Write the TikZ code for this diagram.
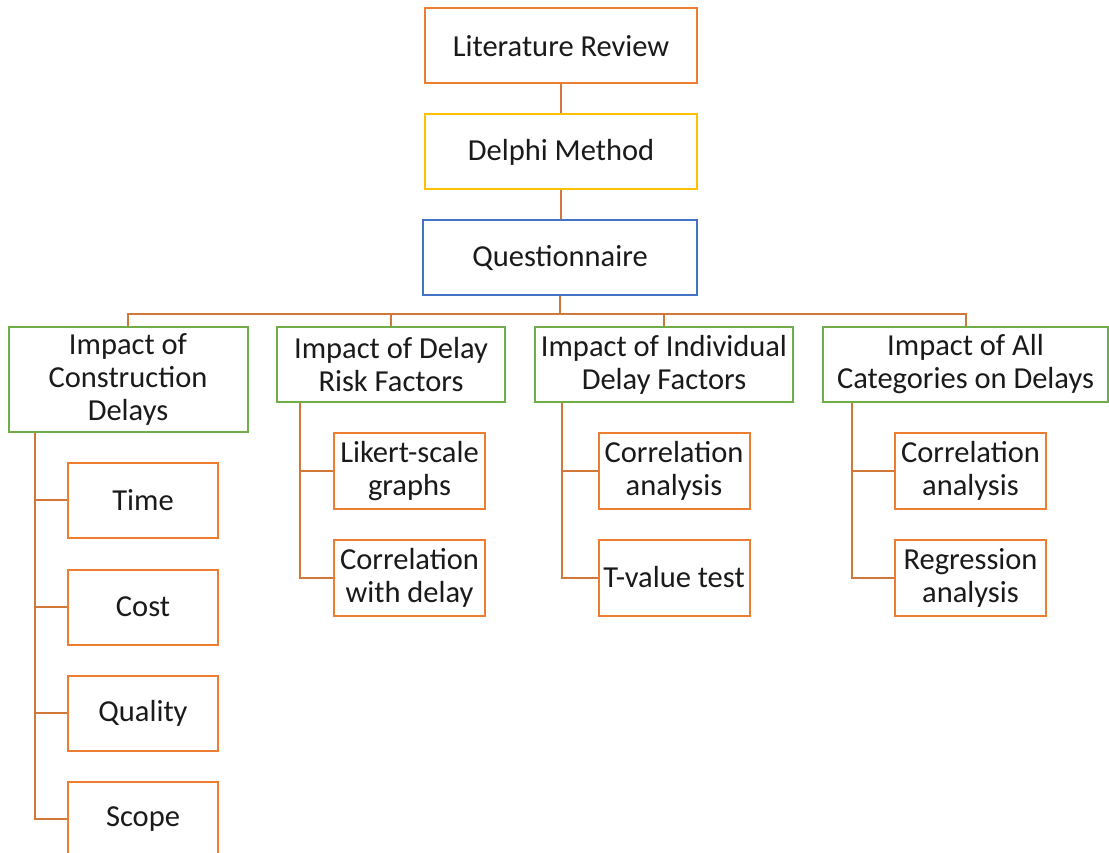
\documentclass[tikz,border=0pt]{standalone}
\usepackage{fontspec}
\setmainfont{Carlito}

\definecolor{boxorange}{HTML}{ED7D31}
\definecolor{boxgold}{HTML}{FFC000}
\definecolor{boxblue}{HTML}{4472C4}
\definecolor{boxgreen}{HTML}{70AD47}
\definecolor{linkorange}{HTML}{D2773A}
\definecolor{textblack}{HTML}{1A1A1A}

\tikzset{
  box/.style={draw=boxorange, line width=2pt, fill=white, inner sep=0pt,
    align=center, text=textblack, font=\fontsize{30.5pt}{33pt}\selectfont},
  topbox/.style={box, minimum width=272pt, minimum height=75pt},
  catbox/.style={box, draw=boxgreen, minimum height=75pt},
  subbox/.style={box, minimum width=151pt, minimum height=76pt},
  link/.style={draw=linkorange, line width=2pt},
}

\begin{document}
\begin{tikzpicture}[x=1pt,y=1pt]
  \useasboundingbox (0,0) rectangle (1109,-853);
  \clip (0,0) rectangle (1109,-853);

  %top chain
  \node[topbox] (litrev) at (561,-46) {Literature Review};
  \node[topbox, draw=boxgold] (delphi) at (561,-152) {Delphi Method};
  \node[topbox, draw=boxblue, minimum width=274pt] (quest) at (560,-258) {Questionnaire};

  \draw[link] (litrev.south) -- (delphi.north);
  \draw[link] (delphi.south) -- (delphi.south |- quest.north);

  %categories
  \node[catbox, minimum width=239pt, minimum height=105pt] (impcon) at (128,-379.5) {Impact of\\Construction\\Delays};
  \node[catbox, minimum width=228pt] (imprisk) at (391,-364.5) {Impact of Delay\\Risk Factors};
  \node[catbox, minimum width=258pt] (impind) at (664,-364.5) {Impact of Individual\\Delay Factors};
  \node[catbox, minimum width=285pt] (impall) at (965.5,-364.5) {Impact of All\\Categories on Delays};

  %bus
  \draw[link] (quest.south) -- ++(0,-17) coordinate (bus);
  \draw[link] (bus) -| (impcon.north);
  \draw[link] (bus) -| (imprisk.north);
  \draw[link] (bus) -| (impind.north);
  \draw[link] (bus) -| (impall.north);

  %construction delays
  \node[subbox, minimum width=150pt, minimum height=75pt] (time) at (143,-500) {Time};
  \node[subbox, minimum width=150pt, minimum height=75pt] (cost) at (143,-607) {Cost};
  \node[subbox, minimum width=150pt, minimum height=75pt] (quality) at (143,-713) {Quality};
  \node[subbox, minimum width=150pt, minimum height=75pt] (scope) at (143,-819) {Scope};

  \coordinate (trunkcon) at ([xshift=27pt]impcon.south west);
  \foreach \sub in {time,cost,quality,scope}
    \draw[link] (trunkcon) |- (\sub.west);

  %risk factors
  \node[subbox] (likert) at (409.5,-471) {Likert-scale\\graphs};
  \node[subbox] (corrdelay) at (409.5,-577.5) {Correlation\\with delay};

  \coordinate (trunkrisk) at ([xshift=24pt]imprisk.south west);
  \foreach \sub in {likert,corrdelay}
    \draw[link] (trunkrisk) |- (\sub.west);

  %individual factors
  \node[subbox] (corrind) at (674,-471) {Correlation\\analysis};
  \node[subbox] (tvalue) at (674,-577.5) {T-value test};

  \coordinate (trunkind) at ([xshift=28pt]impind.south west);
  \foreach \sub in {corrind,tvalue}
    \draw[link] (trunkind) |- (\sub.west);

  %all categories
  \node[subbox] (corrall) at (970.5,-471) {Correlation\\analysis};
  \node[subbox] (regress) at (970.5,-577.5) {Regression\\analysis};

  \coordinate (trunkall) at ([xshift=30pt]impall.south west);
  \foreach \sub in {corrall,regress}
    \draw[link] (trunkall) |- (\sub.west);

\end{tikzpicture}
\end{document}
